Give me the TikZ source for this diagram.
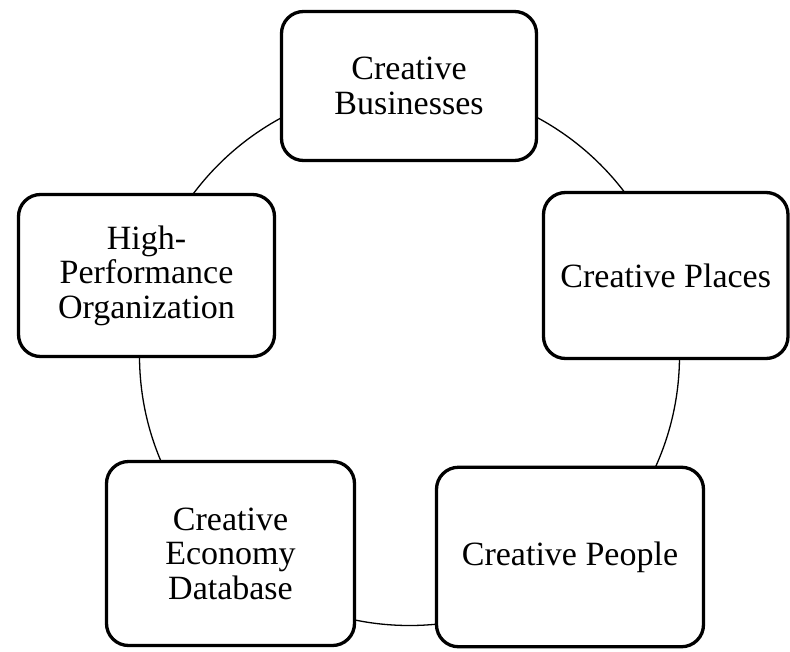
\documentclass[tikz,border=0pt]{standalone}
\usepackage{fontspec}
\setmainfont{Liberation Serif}
\begin{document}
\begin{tikzpicture}[x=1pt,y=-1pt]
\tikzset{
  box/.style={draw=black, line width=3.3pt, rounded corners=22pt, fill=white,
    inner sep=0pt, outer sep=0pt, align=center,
    font=\fontsize{34}{34.5}\selectfont},
  ring/.style={draw=black, line width=1.3pt, circle, inner sep=0pt, minimum size=540pt}
}
\useasboundingbox (0,0) rectangle (790,651);
\node[ring] (ring) at (409.5,355.5) {};
\node[box, minimum width=255pt, minimum height=149pt] (bus) at (409,86) {Creative\\Businesses};
\node[box, minimum width=244.5pt, minimum height=166pt] (places) at (665.75,275.5) {Creative Places};
\node[box, minimum width=267pt, minimum height=179.5pt] (people) at (570,557) {Creative People};
\node[box, minimum width=248pt, minimum height=184pt] (db) at (230.5,553.5) {Creative\\Economy\\Database};
\node[box, minimum width=256pt, minimum height=162pt] (hpo) at (146.5,275.5) {High-\\Performance\\Organization};
\end{tikzpicture}
\end{document}
